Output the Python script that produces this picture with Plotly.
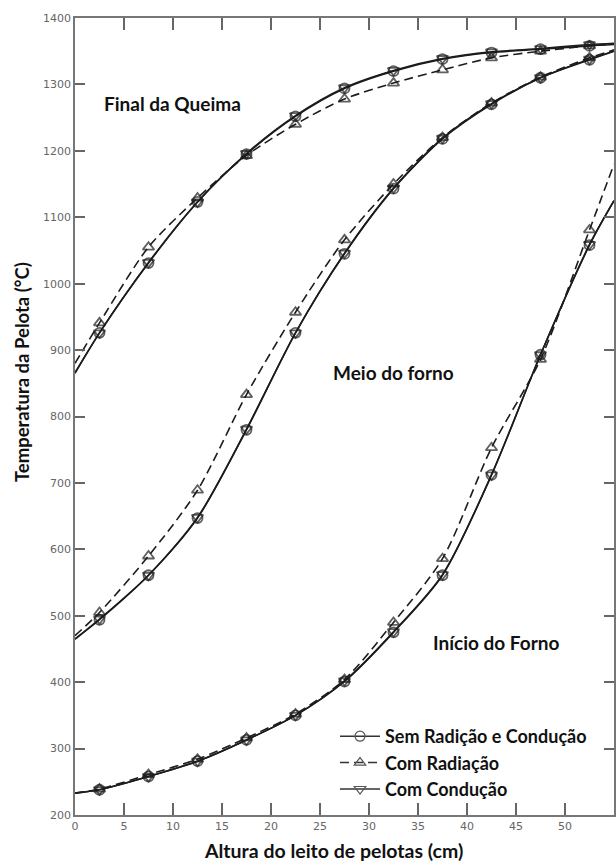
import plotly.graph_objects as go

# ---------------- data ----------------
x_pts = [2.5, 7.5, 12.5, 17.5, 22.5, 27.5, 32.5, 37.5, 42.5, 47.5, 52.5]
x_start = 0
x_end = 55

# Final da Queima
final_sem_start, final_sem_end = 865, 1360
final_sem = [926, 1031, 1123, 1195, 1252, 1294, 1320, 1338, 1348, 1353, 1358]
final_rad_start, final_rad_end = 880, 1361
final_rad = [941, 1055, 1129, 1193, 1240, 1278, 1302, 1322, 1340, 1350, 1358]
final_con_start, final_con_end = 866, 1362
final_con = [926, 1032, 1123, 1196, 1253, 1295, 1321, 1339, 1349, 1354, 1360]

# Meio do forno
meio_sem_start, meio_sem_end = 465, 1350
meio_sem = [494, 561, 647, 780, 926, 1045, 1143, 1218, 1270, 1310, 1337]
meio_rad_start, meio_rad_end = 470, 1352
meio_rad = [505, 590, 689, 833, 957, 1066, 1150, 1220, 1272, 1311, 1340]
meio_con_start, meio_con_end = 465, 1350
meio_con = [495, 561, 648, 781, 926, 1046, 1144, 1219, 1271, 1310, 1338]

# Início do Forno
inicio_sem_start, inicio_sem_end = 233, 1125
inicio_sem = [238, 258, 281, 313, 350, 401, 475, 561, 712, 893, 1058]
inicio_rad_start, inicio_rad_end = 233, 1180
inicio_rad = [239, 261, 284, 316, 352, 404, 490, 586, 753, 886, 1081]
inicio_con_start, inicio_con_end = 233, 1125
inicio_con = [238, 258, 281, 313, 350, 402, 476, 562, 712, 893, 1059]

series_names = ["Sem Radição e Condução", "Com Radiação", "Com Condução"]
group_labels = ["Final da Queima", "Meio do forno", "Início do Forno"]
y_ticks = [200, 300, 400, 500, 600, 700, 800, 900, 1000, 1100, 1200, 1300, 1400]
x_ticks = [0, 5, 10, 15, 20, 25, 30, 35, 40, 45, 50, 55]

# ---------------- styles ----------------
INK = "#1c1c1c"
styles = [
    dict(dash="solid", symbol="circle-open"),
    dict(dash="9px,5px", symbol="triangle-up-open"),
    dict(dash="solid", symbol="triangle-down-open"),
]

groups = [
    [(final_sem_start, final_sem, final_sem_end),
     (final_rad_start, final_rad, final_rad_end),
     (final_con_start, final_con, final_con_end)],
    [(meio_sem_start, meio_sem, meio_sem_end),
     (meio_rad_start, meio_rad, meio_rad_end),
     (meio_con_start, meio_con, meio_con_end)],
    [(inicio_sem_start, inicio_sem, inicio_sem_end),
     (inicio_rad_start, inicio_rad, inicio_rad_end),
     (inicio_con_start, inicio_con, inicio_con_end)],
]

fig = go.Figure()
x_line = [x_start] + x_pts + [x_end]
for g in groups:
    for k, (s0, vals, s1) in enumerate(g):
        st = styles[k]
        n = len(vals)
        fig.add_trace(go.Scatter(
            x=x_line, y=[s0] + vals + [s1],
            mode="lines+markers",
            line=dict(color=INK, width=1.6, dash=st["dash"], shape="spline", smoothing=0.8),
            marker=dict(symbol=st["symbol"], color=INK,
                        size=[0] + [10] * n + [0],
                        line=dict(color=INK, width=[0] + [1.8] * n + [0])),
            showlegend=False, cliponaxis=True,
        ))

# legend entries
for k, name in enumerate(series_names):
    st = styles[k]
    fig.add_trace(go.Scatter(
        x=[None], y=[None], mode="lines+markers", name=name,
        legendgroup=str(k),
        line=dict(color="#333", width=1.5, dash=st["dash"]),
        marker=dict(symbol=st["symbol"], color="#555", size=10, line=dict(color="#555", width=1.2)),
    ))

LBL = dict(family="Lato", size=19, color="#111", weight="bold")
# group labels
fig.add_annotation(x=2.74, y=1272, text=group_labels[0], showarrow=False,
                   xanchor="left", yanchor="middle", font=LBL)
fig.add_annotation(x=26.1, y=867, text=group_labels[1], showarrow=False,
                   xanchor="left", yanchor="middle", font=LBL)
fig.add_annotation(x=36.3, y=459, text=group_labels[2], showarrow=False,
                   xanchor="left", yanchor="middle", font=LBL)

# axis titles as annotations for exact placement
fig.add_annotation(xref="paper", yref="paper", x=0.48, y=-0.045,
                   text="Altura do leito de pelotas (cm)", showarrow=False,
                   xanchor="center", yanchor="middle",
                   font=dict(family="Lato", size=19.5, color="#111", weight="bold"))
fig.add_annotation(xref="paper", yref="paper", x=-0.098, y=0.556,
                   text="Temperatura da Pelota (°C)", showarrow=False, textangle=-90,
                   xanchor="center", yanchor="middle",
                   font=dict(family="Lato", size=18.5, color="#111", weight="bold"))

TICKF = dict(family="DejaVu Sans", size=11, color="#666")
fig.update_layout(
    width=616, height=862,
    margin=dict(l=75, r=0, t=18, b=47),
    paper_bgcolor="white", plot_bgcolor="white",
    showlegend=True,
    legend=dict(x=0.4824, y=0.1217, xanchor="left", yanchor="top",
                font=dict(family="Lato", size=18, color="#111", weight="bold"),
                bgcolor="rgba(0,0,0,0)", tracegroupgap=0,
                itemwidth=40),
    xaxis=dict(range=[0, 55], tickvals=x_ticks, ticks="inside", ticklen=12, tickwidth=1.5,
               tickcolor="#666", showline=True, linecolor="#777", linewidth=1.5,
               mirror="ticks", showgrid=False, zeroline=False, tickfont=TICKF),
    yaxis=dict(range=[200, 1400], tickvals=y_ticks, ticks="inside", ticklen=10, tickwidth=1.5,
               tickcolor="#666", showline=True, linecolor="#777", linewidth=1.5,
               mirror="ticks", showgrid=False, zeroline=False, tickfont=TICKF),
)

fig.write_html("out.html", config={"displayModeBar": False},
               post_script="document.body.style.margin='0';document.body.style.overflow='hidden';")
